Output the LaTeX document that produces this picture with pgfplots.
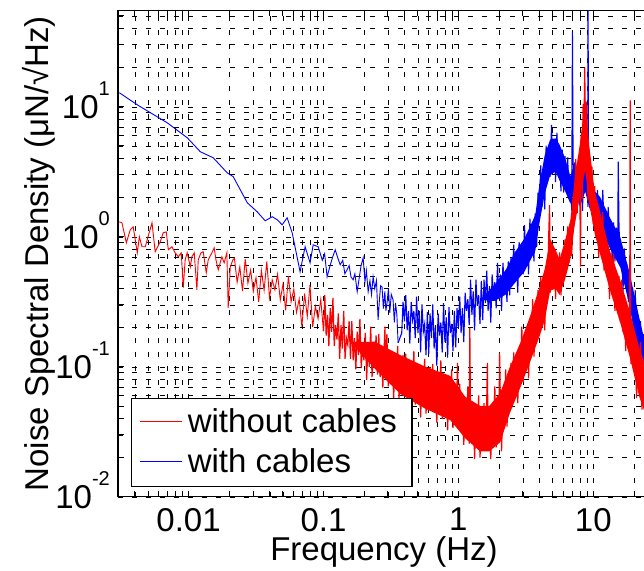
\documentclass[border=0pt]{standalone}
\usepackage{fontspec}
\setmainfont{Liberation Sans}
\usepackage{pgfplots}
\pgfplotsset{compat=1.18}
\newcommand\bigfont{\fontsize{33}{40}\selectfont}
\newcommand\ex[1]{10\smash{\raisebox{23pt}{\fontsize{20}{20}\selectfont #1}}}
\begin{document}
\begin{tikzpicture}
\begin{axis}[
  name=ax,
  scale only axis,
  width=532pt, height=486.3pt,
  xmode=log, ymode=log,
  xmin=0.003, xmax=26.3, ymin=0.01, ymax=55,
  xtick={0.01,0.1,1,10}, xticklabels={0.01,0.1,1,10},
  minor xtick={0.003,0.004,0.005,0.006,0.007,0.008,0.009,0.02,0.03,0.04,0.05,0.06,0.07,0.08,0.09,0.2,0.3,0.4,0.5,0.6,0.7,0.8,0.9,2,3,4,5,6,7,8,9,20},
  ytick={0.01,0.1,1,10}, yticklabels={\ex{-2},\ex{-1},\ex{0},\ex{1}},
  minor ytick={0.02,0.03,0.04,0.05,0.06,0.07,0.08,0.09,0.2,0.3,0.4,0.5,0.6,0.7,0.8,0.9,2,3,4,5,6,7,8,9,20,30,40,50},
  grid=both,
  major grid style={black, line width=0.5pt, dash pattern=on 5pt off 9pt},
  minor grid style={black, line width=0.5pt, dash pattern=on 5pt off 9pt},
  tick align=inside,
  major tick length=6pt, minor tick length=6pt,
  tick style={black, line width=0.8pt},
  axis line style={black, line width=1.2pt},
  tick label style={font=\bigfont},
  xticklabel style={inner sep=0pt, anchor=north, yshift=-11pt},
  yticklabel style={inner sep=0pt, anchor=east, xshift=-8pt},
  xlabel={Frequency (Hz)},
  ylabel={Noise Spectral Density (μN/√Hz)},
  xlabel style={font=\bigfont, at={([yshift=-40pt]rel axis cs:0.5,0)}, anchor=north, inner sep=0pt},
  ylabel style={font=\bigfont, at={([xshift=-62pt]rel axis cs:0,0.5)}, anchor=south, inner sep=0pt},
]
% with cables (blue): dense core of the noise band
\addplot[fill=blue, draw=none] coordinates {
(1.445,0.327)(1.862,0.430)(2.239,0.556)(2.630,0.764)(3.090,0.970)(3.715,1.472)(3.981,2.506)(4.365,4.256)(4.786,5.598)(5.248,5.715)(5.623,5.105)(6.166,4.046)(6.761,2.917)(7.244,3.767)(7.943,3.069)(8.710,4.819)(9.333,2.858)(10.23,2.249)(11.22,2.023)(13.18,1.422)(15.85,0.991)(18.62,0.521)(21.88,0.240)(26.3,0.105)
(26.3,0.038)(21.88,0.109)(18.62,0.290)(15.85,0.581)(13.18,0.826)(11.22,1.186)(10.23,1.374)(9.333,1.675)(8.710,2.223)(7.943,1.710)(7.244,2.208)(6.761,1.799)(6.166,2.254)(5.623,2.704)(5.248,3.184)(4.786,2.965)(4.365,2.143)(3.981,1.262)(3.715,0.780)(3.090,0.541)(2.630,0.443)(2.239,0.359)(1.862,0.321)
};
\addplot[blue, line width=0.9pt] coordinates {
(0.00307,12.82)(0.00417,10.35)(0.00695,7.53)(0.00977,5.78)(0.01222,4.51)(0.01524,4.05)(0.01936,3.10)(0.02143,2.90)(0.02723,1.828)(0.03228,1.556)(0.03698,1.327)(0.04169,1.426)(0.0454,1.352)(0.0494,1.236)(0.0538,1.40)(0.0586,1.074)(0.0671,0.538)(0.0731,0.838)(0.0796,0.631)(0.0839,0.867)(0.0914,0.838)(0.098,0.66)(0.102,0.74)(0.1064,0.492)(0.112,0.60)(0.117,0.70)(0.1222,0.794)(0.127,0.70)(0.133,0.609)(0.139,0.66)(0.144,0.52)(0.1496,0.557)(0.155,0.60)(0.160,0.49)(0.166,0.467)(0.171,0.52)(0.1778,0.378)(0.185,0.50)(0.19,0.60)(0.1968,0.689)(0.203,0.45)(0.208,0.55)(0.2143,0.378)(0.221,0.46)(0.227,0.36)(0.2333,0.492)(0.24,0.40)(0.247,0.46)(0.254,0.230)(0.26,0.33)(0.265,0.42)(0.2716,0.412)(0.278,0.28)(0.285,0.38)(0.29,0.27)(0.2958,0.310)(0.303,0.40)(0.31,0.26)(0.318,0.36)(0.328,0.327)(0.335,0.22)(0.342,0.31)(0.35,0.25)(0.3573,0.153)
};
\addplot[blue, line width=1.1pt] coordinates {
(0.3573,0.153)(0.3802,0.182)(0.3890,0.316)(0.3981,0.224)(0.4074,0.355)(0.4169,0.191)(0.4266,0.269)(0.4365,0.151)(0.4467,0.316)(0.4571,0.229)(0.4677,0.269)(0.4786,0.166)(0.4898,0.347)(0.5012,0.182)(0.5129,0.269)(0.5248,0.129)(0.5370,0.302)(0.5495,0.186)(0.5623,0.214)(0.5754,0.123)(0.5888,0.263)(0.6026,0.126)(0.6166,0.257)(0.6310,0.166)(0.6457,0.302)(0.6607,0.138)(0.6761,0.209)(0.6918,0.102)(0.7079,0.257)(0.7244,0.174)(0.7413,0.219)(0.7586,0.129)(0.7762,0.309)(0.7943,0.155)(0.8128,0.240)(0.8318,0.1175)(0.8511,0.288)(0.8710,0.182)(0.8913,0.214)(0.9120,0.132)(0.9333,0.269)(0.9550,0.141)(0.9772,0.282)
(1.000,0.200)(1.023,0.347)(1.047,0.182)(1.072,0.282)(1.096,0.155)(1.122,0.372)(1.148,0.269)(1.175,0.331)(1.202,0.209)(1.230,0.468)(1.259,0.251)(1.288,0.380)(1.318,0.191)(1.349,0.468)(1.380,0.295)(1.413,0.355)(1.445,0.214)(1.479,0.457)(1.514,0.229)(1.549,0.468)(1.585,0.309)(1.622,0.550)(1.660,0.269)(1.698,0.417)(1.738,0.219)(1.778,0.513)(1.820,0.363)(1.862,0.447)(1.905,0.282)(1.950,0.631)(1.995,0.347)(2.042,0.513)(2.089,0.269)(2.138,0.631)(2.188,0.417)(2.239,0.490)(2.291,0.316)(2.344,0.646)(2.399,0.355)(2.455,0.692)(2.512,0.490)(2.570,0.871)(2.630,0.457)(2.692,0.692)(2.754,0.372)(2.818,0.912)(2.884,0.661)(2.951,0.832)(3.020,0.513)(3.090,1.230)(3.162,0.646)(3.236,1.047)(3.311,0.513)(3.388,1.380)(3.467,0.871)(3.548,1.096)(3.631,0.646)(3.715,1.514)(3.802,0.832)(3.890,2.188)(3.981,1.585)
(4.074,3.548)(4.169,1.698)(4.266,3.162)(4.365,1.622)(4.467,5.012)(4.571,3.548)(4.677,4.786)(4.786,2.884)(4.898,7.244)(5.012,3.548)(5.129,5.495)(5.248,2.630)(5.370,6.310)(5.495,3.715)(5.623,4.169)(5.754,2.239)(5.888,4.677)(6.026,2.188)(6.166,4.169)(6.310,2.570)(6.457,4.074)(6.607,1.950)(6.761,2.630)(6.918,1.585)(7.00,37.8)(7.079,3.715)(7.244,2.884)(7.413,3.311)(7.586,1.905)(7.762,4.074)(7.943,1.950)(8.128,3.311)(8.318,1.585)(8.511,5.129)(8.710,3.090)(8.913,4.169)(9.120,1.698)(9.14,80)(9.20,3.5)(9.333,2.951)(9.550,1.905)(9.772,3.020)
(10.00,1.479)(10.23,1.995)(10.47,1.072)(10.72,2.291)(10.96,1.585)(11.22,1.862)(11.48,1.096)(11.75,2.291)(12.02,1.148)(12.30,1.622)(12.59,0.776)(12.88,1.698)(13.18,1.023)(13.49,1.148)(13.80,0.661)(14.13,1.288)(14.45,0.646)(14.79,1.175)(15.14,0.759)(15.30,3.78)(15.49,1.230)(15.85,0.589)(16.22,0.794)(16.60,0.380)(16.98,0.813)(17.38,0.513)(17.78,0.575)(18.20,0.316)(18.62,0.661)(19.05,0.288)(19.50,0.407)(19.95,0.155)(20.42,0.389)(20.89,0.195)(21.38,0.209)(21.88,0.0912)(22.39,0.224)(22.91,0.0708)(23.44,0.178)(23.99,0.0794)(24.6,0.05)(25.3,0.09)(26.3,0.04)
};
% without cables (red): dense core of the noise band
\addplot[fill=red, draw=none] coordinates {
(0.1585,0.155)(0.2399,0.156)(0.3715,0.123)(0.5623,0.1007)(0.871,0.0851)(1.122,0.0589)(1.445,0.0501)(1.698,0.0501)(2.042,0.0631)(2.399,0.0991)(2.884,0.154)(3.388,0.243)(3.981,0.406)(4.365,0.566)(4.786,0.962)(5.248,0.794)(5.623,0.671)(6.166,0.933)(6.761,1.349)(7.244,2.667)(7.943,5.164)(8.710,11.5)(9.333,5.0)(10.23,2.254)(11.22,1.56)(13.18,0.794)(15.85,0.460)(18.62,0.267)(21.88,0.141)(26.3,0.081)
(26.3,0.034)(21.88,0.059)(18.62,0.1186)(15.85,0.217)(13.18,0.398)(11.22,0.736)(10.23,1.064)(9.333,1.782)(8.710,3.228)(7.943,2.075)(7.244,1.186)(6.761,0.676)(6.166,0.468)(5.623,0.357)(5.248,0.398)(4.786,0.386)(4.365,0.228)(3.981,0.170)(3.388,0.108)(2.884,0.0697)(2.399,0.0437)(2.042,0.0263)(1.698,0.0224)(1.445,0.0224)(1.122,0.0282)(0.871,0.0389)(0.5623,0.0479)(0.3715,0.0617)(0.2399,0.0968)
};
\addplot[red, line width=0.9pt] coordinates {
(0.00307,1.303)(0.00321,1.282)(0.00346,0.90)(0.00370,1.132)(0.00389,1.194)(0.00417,0.753)(0.00432,1.0)(0.00452,0.838)(0.00478,0.838)(0.00494,0.948)(0.00536,1.282)(0.00566,0.767)(0.00617,0.916)(0.00649,1.074)(0.00684,1.091)(0.00708,0.794)(0.00753,0.838)(0.00796,0.753)(0.00839,0.702)(0.00883,0.753)(0.00914,0.406)(0.00944,0.665)(0.00977,0.753)(0.0103,0.587)(0.01059,0.702)(0.01102,0.753)(0.01153,0.391)(0.0118,0.665)(0.01236,0.753)(0.01285,0.767)(0.01352,0.528)(0.0140,0.665)(0.01489,0.753)(0.01549,0.822)(0.01596,0.665)(0.0166,0.557)(0.01766,0.702)(0.01837,0.631)(0.01923,0.753)(0.01968,0.284)(0.02037,0.587)(0.02133,0.665)
(0.02188,0.685)(0.02291,0.447)(0.02399,0.586)(0.02512,0.382)(0.0263,0.673)(0.02754,0.439)(0.02884,0.555)(0.0302,0.380)(0.03162,0.485)(0.03311,0.316)(0.03467,0.550)(0.03631,0.388)(0.03802,0.646)(0.03981,0.339)(0.04169,0.466)(0.04365,0.391)(0.04571,0.515)(0.04786,0.326)(0.05012,0.432)(0.05248,0.272)(0.05495,0.497)(0.05754,0.316)(0.06026,0.396)(0.0631,0.262)(0.06607,0.333)(0.06918,0.204)(0.07244,0.366)(0.07586,0.244)(0.07943,0.427)(0.08318,0.203)(0.0871,0.291)(0.0912,0.234)(0.0955,0.330)(0.1,0.188)
};
\addplot[red, line width=1.2pt] coordinates {
(0.1,0.188)(0.1023,0.355)(0.1047,0.174)(0.1072,0.251)(0.1096,0.1445)(0.1122,0.282)(0.1148,0.186)(0.1175,0.339)(0.1202,0.1445)(0.1230,0.209)(0.1259,0.162)(0.1288,0.257)(0.1318,0.115)(0.1349,0.209)(0.1380,0.138)(0.1413,0.269)(0.1445,0.115)(0.1479,0.166)(0.1514,0.148)(0.1549,0.224)(0.1585,0.115)(0.1622,0.224)(0.1660,0.112)(0.1698,0.166)(0.1738,0.0955)(0.1778,0.186)(0.1820,0.123)(0.1862,0.234)(0.1905,0.0977)(0.1950,0.1445)(0.1995,0.112)(0.2042,0.182)(0.2089,0.0794)(0.2138,0.151)(0.2188,0.100)(0.2239,0.204)(0.2291,0.0832)(0.2344,0.123)(0.2399,0.1096)(0.2455,0.174)(0.2512,0.0871)(0.2570,0.178)(0.2630,0.0832)(0.2692,0.126)(0.2754,0.0692)(0.2818,0.141)(0.2857,0.204)(0.2884,0.0912)(0.2951,0.178)(0.3020,0.0708)(0.3090,0.107)(0.3162,0.0794)(0.3236,0.132)(0.3311,0.0562)(0.3388,0.1096)(0.3467,0.0708)(0.3548,0.1445)(0.3631,0.0575)(0.3715,0.0871)
(0.3802,0.0776)(0.3890,0.123)(0.3981,0.0603)(0.4074,0.126)(0.4169,0.0589)(0.4266,0.0891)(0.4365,0.0490)(0.4467,0.102)(0.4571,0.0661)(0.4677,0.132)(0.4786,0.0513)(0.4898,0.0794)(0.5012,0.0589)(0.5129,0.102)(0.5248,0.0407)(0.5370,0.0832)(0.5495,0.0525)(0.5623,0.115)(0.5754,0.0437)(0.5888,0.0676)(0.6026,0.0603)(0.6166,0.100)(0.6310,0.0468)(0.6457,0.1047)(0.6607,0.0457)(0.6761,0.0724)(0.6918,0.0372)(0.7079,0.0832)(0.7244,0.0525)(0.7413,0.112)(0.7586,0.0398)(0.7762,0.0646)(0.7943,0.0468)(0.8128,0.0851)(0.8318,0.0324)(0.8511,0.0692)(0.8710,0.0427)(0.8913,0.0955)(0.9120,0.0339)(0.9333,0.0525)(0.9550,0.0447)(0.9772,0.0741)(0.985,0.107)
(1.000,0.0331)(1.023,0.0741)(1.047,0.0316)(1.072,0.0490)(1.096,0.0251)(1.122,0.0537)(1.148,0.0339)(1.175,0.0708)(1.202,0.0257)(1.215,0.20)(1.230,0.0398)(1.259,0.0295)(1.288,0.0525)(1.318,0.0195)(1.349,0.0427)(1.380,0.0251)(1.413,0.0603)(1.445,0.0200)(1.479,0.0331)(1.514,0.0295)(1.549,0.0525)(1.585,0.0229)(1.622,0.0550)(1.64,0.107)(1.660,0.0229)(1.698,0.0380)(1.738,0.0195)(1.778,0.0490)(1.820,0.0295)(1.862,0.0708)(1.905,0.0240)(1.950,0.0417)(1.995,0.0302)(2.02,0.128)(2.042,0.0603)(2.089,0.0224)(2.138,0.0562)(2.188,0.0363)(2.239,0.0955)(2.291,0.0347)(2.344,0.0617)(2.399,0.0589)(2.455,0.107)(2.512,0.0513)(2.570,0.129)(2.630,0.0575)(2.692,0.100)(2.754,0.0525)(2.818,0.132)(2.884,0.0851)(2.951,0.204)(3.020,0.0759)(3.090,0.135)(3.162,0.1047)(3.236,0.204)(3.311,0.0813)(3.388,0.195)(3.467,0.126)(3.548,0.331)(3.631,0.120)(3.715,0.214)(3.802,0.200)(3.890,0.389)(3.981,0.178)
(4.074,0.490)(4.169,0.204)(4.266,0.380)(4.365,0.191)(4.467,0.575)(4.571,0.380)(4.677,1.072)(4.74,1.75)(4.786,0.372)(4.898,0.631)(5.012,0.457)(5.129,0.813)(5.248,0.331)(5.370,0.631)(5.495,0.398)(5.623,0.759)(5.754,0.355)(5.888,0.562)(6.026,0.550)(6.166,0.955)(6.310,0.525)(6.457,1.202)(6.607,0.631)(6.761,1.072)(6.918,0.708)(7.079,1.950)(7.244,1.479)(7.413,3.981)(7.586,1.514)(7.762,3.020)(7.943,2.455)(8.03,0.59)(8.128,6.026)(8.318,1.950)(8.40,10.5)(8.511,6.918)(8.65,20.0)(8.710,3.715)(8.913,10.96)(9.120,1.905)(9.333,3.020)(9.550,2.188)(9.772,3.467)
(10.00,1.259)(10.23,2.455)(10.47,1.000)(10.72,1.445)(10.96,0.692)(11.22,1.445)(11.48,0.832)(11.75,1.549)(12.02,0.550)(12.30,0.776)(12.59,0.550)(12.88,0.851)(13.18,0.331)(13.49,0.617)(13.80,0.372)(14.13,0.741)(14.45,0.269)(14.79,0.389)(15.14,0.324)(15.49,0.501)(15.85,0.224)(16.22,0.468)(16.60,0.186)(16.98,0.275)(17.38,0.132)(17.78,0.282)(18.20,0.162)(18.62,0.331)(18.75,11.2)(18.85,0.30)(19.05,0.1047)(19.50,0.155)(19.95,0.102)(20.42,0.178)(20.89,0.0575)(21.38,0.123)(21.88,0.0646)(22.39,0.155)(22.91,0.0468)(23.44,0.0741)(23.99,0.0603)(24.55,0.095)(25.1,0.045)(25.7,0.08)(26.3,0.04)
};
% legend box
\node[draw=black, line width=1.1pt, fill=white, anchor=south west, inner sep=0pt]
  at (rel axis cs:0.025,0.0206)
  {\bigfont\begin{tabular}{@{\hspace{8pt}}l@{\hspace{15pt}}}%
   \rule{0pt}{34pt}\textcolor{red}{\rule[11pt]{42pt}{0.7pt}}\hspace{6pt}without cables\\
   \textcolor{blue}{\rule[11pt]{42pt}{0.7pt}}\hspace{6pt}with cables\rule[-14pt]{0pt}{14pt}%
   \end{tabular}};
\end{axis}
\pgfresetboundingbox
\path[use as bounding box] ([xshift=-118pt,yshift=-74pt]ax.south west) rectangle ([xshift=-6pt,yshift=10.5pt]ax.north east);
\end{tikzpicture}
\end{document}
